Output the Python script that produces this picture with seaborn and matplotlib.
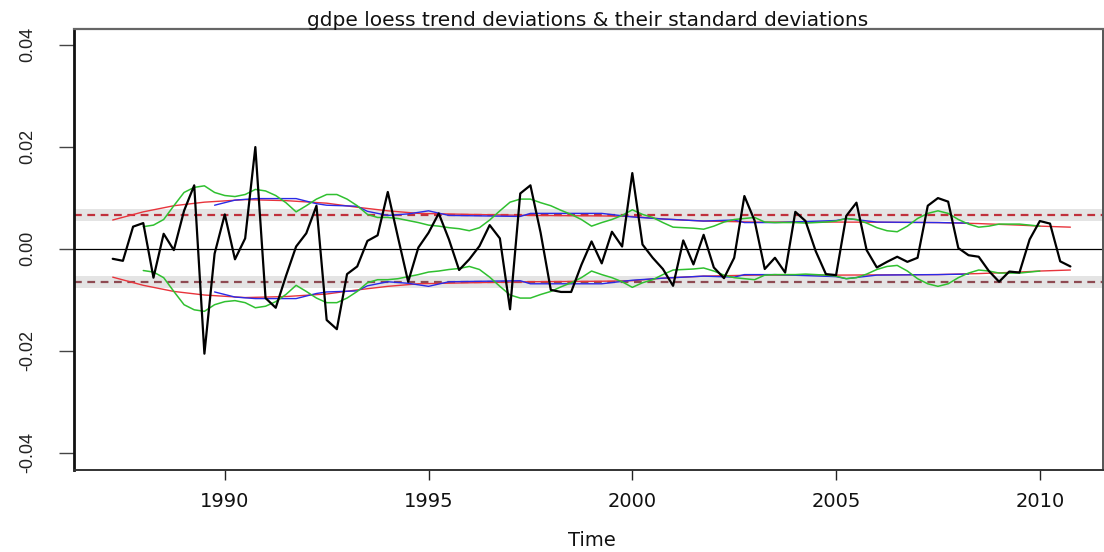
import numpy as np
import pandas as pd
import matplotlib
matplotlib.use("Agg")
import matplotlib.pyplot as plt
import seaborn as sns

# Quarterly loess trend deviations of gdpe, 1987 Q2 .. 2010 Q4
deviations = [
    -0.0020, -0.0024, 0.0043,                      # 1987
    0.0050, -0.0057, 0.0029, -0.0003,              # 1988
    0.0074, 0.0124, -0.0206, -0.0010,              # 1989
    0.0067, -0.0021, 0.0020, 0.0199,               # 1990
    -0.0097, -0.0116, -0.0054, 0.0004,             # 1991
    0.0030, 0.0084, -0.0140, -0.0158,              # 1992
    -0.0050, -0.0035, 0.0015, 0.0026,              # 1993
    0.0111, 0.0022, -0.0065, 0.0002,               # 1994
    0.0031, 0.0069, 0.0018, -0.0042,               # 1995
    -0.0021, 0.0005, 0.0046, 0.0020,               # 1996
    -0.0119, 0.0108, 0.0124, 0.0031,               # 1997
    -0.0081, -0.0085, -0.0085, -0.0032,            # 1998
    0.0014, -0.0029, 0.0033, 0.0004,               # 1999
    0.0148, 0.0008, -0.0018, -0.0040,              # 2000
    -0.0073, 0.0016, -0.0031, 0.0027,              # 2001
    -0.0037, -0.0058, -0.0018, 0.0103,             # 2002
    0.0055, -0.0040, -0.0018, -0.0047,             # 2003
    0.0072, 0.0054, -0.0005, -0.0050,              # 2004
    -0.0052, 0.0064, 0.0090, -0.0003,              # 2005
    -0.0037, -0.0026, -0.0016, -0.0026,            # 2006
    -0.0018, 0.0084, 0.0099, 0.0092,               # 2007
    0.0001, -0.0013, -0.0016, -0.0044,             # 2008
    -0.0065, -0.0045, -0.0047, 0.0018,             # 2009
    0.0054, 0.0049, -0.0025, -0.0035,              # 2010
]
dev_start = 1987.25

# Short rolling standard deviation (quarterly, 1988 Q1 .. 2010 Q1)
sd_short = [
    0.0043, 0.0046, 0.0057, 0.0084,
    0.0110, 0.0120, 0.0123, 0.0110,
    0.0104, 0.0102, 0.0106, 0.0116,
    0.0113, 0.0104, 0.0090, 0.0072,
    0.0084, 0.0097, 0.0106, 0.0106,
    0.0097, 0.0084, 0.0067, 0.0061,
    0.0061, 0.0059, 0.0055, 0.0051,
    0.0046, 0.0044, 0.0041, 0.0039,
    0.0035, 0.0041, 0.0056, 0.0074,
    0.0091, 0.0097, 0.0097, 0.0090,
    0.0084, 0.0075, 0.0067, 0.0057,
    0.0044, 0.0051, 0.0057, 0.0065,
    0.0076, 0.0067, 0.0061, 0.0051,
    0.0042, 0.0041, 0.0040, 0.0038,
    0.0044, 0.0052, 0.0057, 0.0059,
    0.0061, 0.0052, 0.0051, 0.0051,
    0.0051, 0.0050, 0.0051, 0.0052,
    0.0054, 0.0059, 0.0057, 0.0050,
    0.0041, 0.0035, 0.0033, 0.0044,
    0.0059, 0.0069, 0.0074, 0.0069,
    0.0057, 0.0048, 0.0042, 0.0044,
    0.0048, 0.0048, 0.0048, 0.0046,
    0.0044,
]
sd_short_start = 1988.0

# Long rolling standard deviation
sd_long_time = [1989.75, 1990.25, 1990.75, 1991.75, 1992.25, 1992.5, 1993.25,
                1993.5, 1994.0, 1994.5, 1995.0, 1995.5, 1997.25, 1997.5,
                1999.25, 2000.0, 2000.75, 2001.75, 2002.5, 2002.75, 2003.5,
                2005.0, 2005.25, 2006.0, 2007.5, 2008.25]
sd_long = [0.0085, 0.0095, 0.0098, 0.0098, 0.0088, 0.0085, 0.0083,
           0.0073, 0.0065, 0.0068, 0.0074, 0.0065, 0.0063, 0.0069,
           0.0069, 0.0062, 0.0058, 0.0054, 0.0056, 0.0051, 0.0051,
           0.0055, 0.0059, 0.0052, 0.0051, 0.0050]

# Loess-smoothed standard deviation
sd_loess_time = [1987.25, 1988.0, 1988.75, 1989.5, 1990.5, 1991.5, 1992.5,
                 1993.25, 1994.0, 1994.75, 1996.0, 1997.5, 1999.25, 2000.0,
                 2000.75, 2001.75, 2003.0, 2005.0, 2007.5, 2008.5, 2009.5,
                 2010.0, 2010.75]
sd_loess = [0.0056, 0.0072, 0.0084, 0.0091, 0.0096, 0.0094, 0.0089,
            0.0081, 0.0074, 0.0069, 0.0067, 0.0065, 0.0064, 0.0063,
            0.0058, 0.0054, 0.0052, 0.0052, 0.0051, 0.0049, 0.0046,
            0.0044, 0.0042]

# Overall standard deviation and its uncertainty band
sd_overall = 0.0066
sd_band = 0.0012

x_ticks = [1990, 1995, 2000, 2005, 2010]
y_ticks = [-0.04, -0.02, 0.00, 0.02, 0.04]
y_tick_labels = ["-0.04", "-0.02", "0.00", "0.02", "0.04"]
title = "gdpe loess trend deviations & their standard deviations"

sns.set_style("white")
plt.rcParams["font.family"] = ["Liberation Sans", "DejaVu Sans"]
wide_font = ["DejaVu Sans"]

W, H = 1104, 552
fig = plt.figure(figsize=(W / 100, H / 100), dpi=100)
ax = fig.add_axes([74 / W, 82 / H, (1103 - 74) / W, (470 - 28.7) / H])

dev_time = dev_start + 0.25 * np.arange(len(deviations))
short_time = sd_short_start + 0.25 * np.arange(len(sd_short))

df_dev = pd.DataFrame({"Time": dev_time, "dev": deviations})
df_short = pd.DataFrame({"Time": short_time, "sd": sd_short})
df_long = pd.DataFrame({"Time": sd_long_time, "sd": sd_long})
df_loess = pd.DataFrame({"Time": sd_loess_time, "sd": sd_loess})

# gray bands and dashed overall sd lines
for s in (1, -1):
    ax.axhspan(s * sd_overall - sd_band, s * sd_overall + sd_band,
               color="#e4e4e4", lw=0, zorder=0)
ax.axhline(0, color="black", lw=0.9, zorder=1)

red = "#e8343c"
green = "#30c030"
blue = "#2a2ae6"
for s in (1, -1):
    sns.lineplot(x=df_loess["Time"], y=s * df_loess["sd"], ax=ax,
                 color=red, lw=1.0, zorder=3)
    sns.lineplot(x=df_long["Time"], y=s * df_long["sd"], ax=ax,
                 color=blue, lw=1.0, zorder=3)
    sns.lineplot(x=df_short["Time"], y=s * df_short["sd"], ax=ax,
                 color=green, lw=1.1, zorder=3)

ax.axhline(sd_overall, color="#c0303c", lw=1.6, ls=(0, (3.5, 2.5)), zorder=2)
ax.axhline(-sd_overall, color="#8e4a52", lw=1.6, ls=(0, (3.5, 2.5)), zorder=2)

sns.lineplot(data=df_dev, x="Time", y="dev", ax=ax, color="black",
             lw=1.6, zorder=4)

ax.set_xlim(1986.30, 2011.55)
ax.set_ylim(-0.0434, 0.0431)

ax.set_xticks(x_ticks)
ax.set_xticklabels([str(t) for t in x_ticks], fontsize=14, family=wide_font)
ax.set_yticks(y_ticks)
ax.set_yticklabels(y_tick_labels, fontsize=13, rotation=90, va="center")
ax.tick_params(axis="x", length=7, width=1.0, pad=9, colors="#222222",
               labelcolor="#111111", direction="out", bottom=True)
ax.tick_params(axis="y", length=11, width=1.0, pad=16, colors="#444444",
               labelcolor="#222222", direction="out", left=True)

ax.set_xlabel("")
ax.set_ylabel("")
for side, lw, col in (("left", 2.0, "#111111"), ("bottom", 1.4, "#333333"),
                      ("top", 1.6, "#666666"), ("right", 1.4, "#555555")):
    ax.spines[side].set_visible(True)
    ax.spines[side].set_linewidth(lw)
    ax.spines[side].set_color(col)

fig.text(588 / W, 1 - 26 / H, title, ha="center", va="baseline",
         fontsize=14.5, color="#111111", family=wide_font)
fig.text(592 / W, 1 - 546 / H, "Time", ha="center", va="baseline",
         fontsize=14, color="#111111", family=wide_font)

fig.savefig("out.png", dpi=100)
